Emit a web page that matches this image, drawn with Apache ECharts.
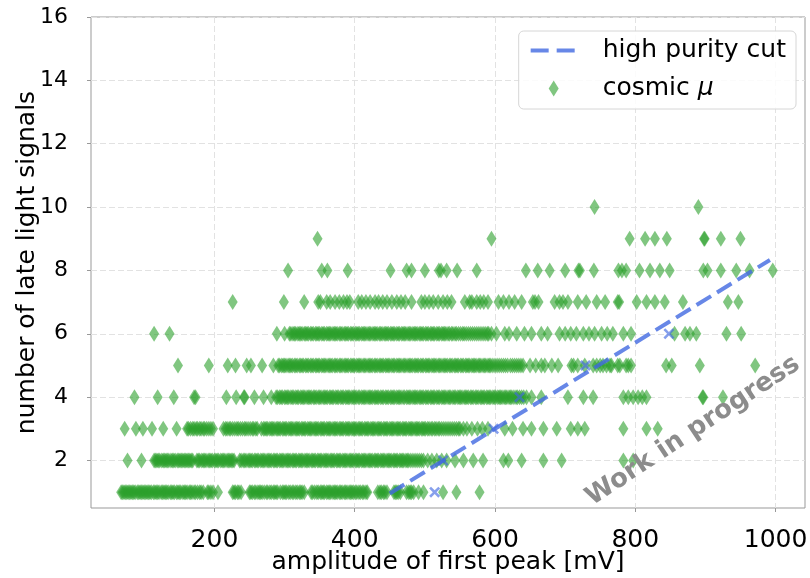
<!DOCTYPE html>
<html><head><meta charset="utf-8">
<script src="https://cdn.jsdelivr.net/npm/echarts@6/dist/echarts.min.js"></script>
<style>html,body{margin:0;padding:0;background:#fff}#c{width:810px;height:578px}</style>
</head><body><div id="c"></div>
<script>
// ---- data ----
const rowLevels = [1, 2, 3, 4, 5, 6, 7, 8, 9, 10];
const row1 = [67, 71, 75, 79, 83, 87, 92, 96, 100, 104, 108, 113, 117, 121, 126, 130, 134, 139, 143, 148, 152, 157, 161, 166, 171, 176, 181, 190, 195, 205,
  226, 230, 235, 238, 250, 254, 257, 262, 266, 271, 276, 281, 286, 290, 297, 301, 306, 311, 316, 321, 325, 328, 338, 343, 348, 353, 357, 362, 366, 371, 375, 380, 385, 389, 394, 398, 403, 408, 413, 418,
  433, 438, 443, 446, 456, 460, 465, 474, 479, 484, 491, 498, 526, 545, 578];
const row1Dense = [69, 73, 77, 81, 85, 90, 94, 98, 102, 106, 110, 115, 119, 124, 128, 132, 137, 141, 146, 150, 155, 159, 164, 168, 173, 179, 184, 192, 198, 228, 233, 252, 259, 264, 268, 274, 279, 284, 288, 294, 299, 303, 308, 313, 318, 323, 340, 346, 351, 355, 360, 364, 369, 373, 378, 382, 387, 392, 396, 401, 406, 411, 416, 436, 441, 458, 462, 477, 481];
const row2 = [76, 96,
  114, 118, 122, 127, 131, 135, 140, 144, 149, 153, 157, 161, 165, 169,
  175, 179, 184, 188, 193, 197, 202, 206, 211, 215, 220, 224, 228,
  236, 241, 245, 250, 254, 259, 263, 268, 272, 277, 281, 286, 290, 295, 299, 304, 308, 313, 317, 322, 326, 331, 335, 340, 344, 349, 353, 358, 362, 367, 371, 376, 380, 385, 389, 394, 398, 403, 407, 412, 416, 421, 425, 430, 434, 439, 443, 448, 452, 457, 461, 466, 470, 475, 480, 486, 492, 498, 504, 510, 517, 524, 531,
  543, 555, 569, 583, 612, 619, 638, 669, 695, 783, 797];
const row2Dense = [116, 120, 125, 129, 133, 138, 142, 147, 151, 155, 159, 163, 167, 177, 182, 186, 191, 195, 200, 204, 209, 213, 218, 222, 226, 238, 243, 248, 252, 257, 261, 266, 270, 275, 279, 284, 288, 293, 297, 302, 306, 311, 315, 320, 324, 329, 333, 338, 342, 347, 351, 356, 360, 365, 369, 374, 378, 383, 387, 392, 396, 401, 405, 410, 414, 419, 423, 428, 432, 437, 441, 446, 450, 455, 459, 464, 468, 473, 477, 483, 489, 495];
const row3 = [72, 88, 98, 111, 127, 146,
  161, 166, 171, 176, 181, 186, 192, 198,
  213, 218, 223, 229, 234, 240, 245, 251, 256, 261,
  267, 272, 276, 281, 285, 290, 294, 299, 303, 308, 312, 317, 321, 326, 330, 335, 339, 344, 348, 353, 357, 362, 366, 371, 375, 380, 384, 389, 393, 398, 402, 407, 411, 416, 420, 425, 429, 434, 438, 443, 447, 452, 456, 461, 465, 470, 474, 479, 483, 488, 492, 497, 501, 506, 511, 516, 521, 527, 533, 539, 545, 550, 555,
  560, 567, 575, 582, 590, 614, 625, 640, 652, 669, 688, 708, 718, 728, 783, 816, 832];
const row3Dense = [163, 169, 174, 179, 184, 189, 195, 216, 221, 226, 232, 237, 243, 248, 254, 259, 270, 274, 279, 283, 288, 292, 297, 301, 306, 310, 315, 319, 324, 328, 333, 337, 342, 346, 351, 355, 360, 364, 369, 373, 378, 382, 387, 391, 396, 400, 405, 409, 414, 418, 423, 427, 432, 436, 441, 445, 450, 454, 459, 463, 468, 472, 477, 481, 486, 490, 495, 499, 504, 509, 514, 519, 524, 530, 536, 542, 548];
const row4 = [86, 119, 142, 171, 173, 217, 231, 242, 243, 257, 270, 281,
  288, 293, 297, 302, 306, 311, 316, 320, 325, 329, 334, 338, 343, 348, 352, 357, 361, 366, 370, 375, 380, 384, 389, 393, 398, 402, 407, 412, 416, 421, 425, 430, 434, 439, 444, 448, 453, 457, 462, 466, 471, 476, 480, 485, 489, 494, 498, 503, 508, 512, 517, 521, 526, 530, 535, 540, 544, 549, 553, 558, 562, 567, 572, 576, 581, 585, 590, 594, 599, 604, 608, 613, 617, 622, 627, 632, 638, 645,
  652, 666, 704, 726, 740, 783, 790, 797, 804, 810, 816, 896, 897, 925];
const row4Dense = [290, 295, 300, 304, 309, 313, 318, 323, 327, 332, 336, 341, 345, 350, 355, 359, 364, 368, 373, 377, 382, 387, 391, 396, 400, 405, 410, 414, 419, 423, 428, 432, 437, 441, 446, 451, 455, 460, 464, 469, 474, 478, 483, 487, 492, 496, 501, 505, 510, 514, 519, 524, 528, 533, 537, 542, 547, 551, 556, 560, 565, 569, 574, 579, 583, 588, 592, 597, 601, 606, 610, 615, 620, 624, 630, 635, 641];
const row5 = [148, 192, 219, 230, 246, 252, 268, 284,
  291, 296, 300, 305, 309, 314, 318, 323, 327, 332, 337, 341, 346, 350, 355, 359, 364, 368, 373, 378, 382, 387, 391, 396, 400, 405, 409, 414, 419, 423, 428, 432, 437, 441, 446, 450, 455, 460, 464, 469, 473, 478, 482, 487, 491, 496, 501, 505, 510, 514, 519, 523, 528, 532, 537, 542, 546, 551, 555, 560, 564, 569, 573, 578, 583, 587, 592, 597, 603, 609, 615, 622, 628, 634, 640,
  650, 658, 666, 671, 681, 690, 709, 712, 718, 728, 740, 745, 750, 754, 759, 764, 766, 775, 778, 787, 790, 794, 844, 852, 892, 971];
const row5Dense = [293, 298, 302, 307, 311, 316, 321, 325, 330, 334, 339, 344, 348, 353, 357, 362, 366, 371, 375, 380, 385, 389, 394, 398, 403, 407, 412, 416, 421, 425, 430, 435, 439, 444, 448, 453, 457, 462, 466, 471, 476, 480, 485, 489, 494, 498, 503, 507, 512, 516, 521, 526, 530, 535, 539, 544, 548, 553, 558, 562, 567, 571, 576, 580, 585, 590, 594, 600, 606, 612, 618, 625, 631, 637];
const row6 = [114, 136, 289, 300,
  307, 312, 316, 321, 325, 330, 334, 339, 344, 348, 353, 357, 362, 366, 371, 375, 380, 385, 389, 394, 398, 403, 407, 412, 416, 421, 426, 430, 435, 439, 444, 448, 453, 457, 462, 467, 471, 476, 480, 485, 489, 494, 498, 503, 508, 512, 517, 521, 526, 530, 535, 540, 545, 551, 556, 562, 568, 574, 580, 586, 591, 595,
  602, 614, 620, 631, 642, 652, 666, 675, 692, 700, 708, 716, 726, 734, 742, 752, 760, 768, 783, 794, 856, 871, 878, 887, 930, 951];
const row6Dense = [309, 314, 319, 323, 328, 332, 337, 341, 346, 350, 355, 360, 364, 369, 373, 378, 382, 387, 391, 396, 401, 405, 410, 414, 419, 423, 428, 432, 437, 442, 446, 451, 455, 460, 464, 469, 473, 478, 483, 487, 492, 496, 501, 505, 510, 514, 519, 524, 528, 533, 538, 543, 548, 554, 559, 565, 571, 577, 583, 589];
const row7 = [226, 299, 328, 348, 351, 360, 365, 372, 378, 384, 389, 393, 405, 410, 416, 422, 429, 434, 440, 446, 453, 460, 466, 472, 481, 495, 500, 506, 512, 519, 526, 532, 538, 557, 564, 567, 574, 579, 584, 590, 605, 612, 620, 628, 638, 654, 657, 662, 685, 692, 697, 704, 718, 730, 745, 757, 775, 777, 802, 816, 828, 842, 868, 932, 947];
const row8 = [305, 353, 361, 390, 451, 474, 481, 500, 520, 523, 531, 546, 574, 644, 661, 678, 700, 719, 721, 741, 776, 781, 787, 806, 821, 835, 849, 897, 903, 922, 944, 963, 996];
const row9 = [347, 595, 792, 814, 828, 845, 898, 899, 922, 950];
const row10 = [742, 890];
const rows = [row1.concat(row1Dense), row2.concat(row2Dense), row3.concat(row3Dense), row4.concat(row4Dense),
  row5.concat(row5Dense), row6.concat(row6Dense), row7, row8, row9, row10];

const cutX = [514, 526, 598, 635, 729, 848];
const cutY = [1, 2, 3, 4, 5, 6];
const fitX = [450, 992];
const fitY = [0.96, 8.33];

const xTicks = [200, 400, 600, 800, 1000];
const yTicks = [2, 4, 6, 8, 10, 12, 14, 16];

const xName = 'amplitude of first peak [mV]';
const yName = 'number of late light signals';
const cutName = 'high purity cut';
const muonName = 'cosmic μ';
const watermark = 'Work in progress';

// ---- chart ----
const FONT = 'DejaVu Sans';
const GREEN = '#2ca02c';
const BLUE = 'rgba(65,105,225,0.8)';
const CROSS = 'path://M2,0L6,4L10,0L12,2L8,6L12,10L10,12L6,8L2,12L0,10L4,6L0,2Z';
const DIAMOND = 'path://M5,0L10,8L5,16L0,8Z';

const scatterData = [];
rows.forEach((xs, i) => xs.forEach(x => scatterData.push([x, rowLevels[i]])));
const fitData = fitX.map((x, i) => [x, fitY[i]]);
const cutData = cutX.map((x, i) => [x, cutY[i]]);

const chart = echarts.init(document.getElementById('c'), null, {renderer: 'canvas'});
const axisCommon = {
  type: 'value',
  nameLocation: 'middle',
  nameMoveOverlap: false,
  nameTextStyle: {fontFamily: FONT, fontSize: 25, color: '#000'},
  axisLine: {show: false},
  splitLine: {show: true, lineStyle: {color: '#e2e2e2', type: [6, 3], width: 1}}
};
chart.setOption({
  animation: false,
  backgroundColor: '#fff',
  grid: {left: 91, right: 5, top: 17, bottom: 70, show: true, borderColor: '#999', borderWidth: 1,
    containLabel: false, outerBoundsMode: 'none'},
  xAxis: Object.assign({}, axisCommon, {
    min: 24, max: 1042, splitNumber: 5,
    name: xName, nameGap: 42,
    axisTick: {show: true, length: 4, lineStyle: {color: '#999'}, customValues: xTicks},
    axisLabel: {customValues: xTicks, fontFamily: FONT, fontSize: 25, color: '#000', margin: 20,
      formatter: v => String(v)}
  }),
  yAxis: Object.assign({}, axisCommon, {
    min: 0.5, max: 16, splitNumber: 8,
    name: yName, nameGap: 51,
    axisTick: {show: true, length: 4, lineStyle: {color: '#999'}, customValues: yTicks},
    axisLabel: {customValues: yTicks, fontFamily: FONT, fontSize: 22, color: '#000', margin: 23,
      formatter: v => String(v)}
  }),
  legend: {
    orient: 'vertical', right: 14, top: 31,
    padding: [7, 10, 8, 10], itemGap: 13, itemWidth: 46, itemHeight: 16,
    backgroundColor: 'rgba(255,255,255,0.85)', borderColor: '#d6d6d6', borderWidth: 1, borderRadius: 5,
    lineStyle: {width: 4, type: [18, 8]},
    textStyle: {fontFamily: FONT, fontSize: 25, color: '#000', padding: [0, 0, 0, 21],
      rich: {n: {fontFamily: FONT, fontSize: 25, color: '#000'}, m: {fontFamily: FONT, fontSize: 25, fontStyle: 'italic', color: '#000'}}},
    formatter: name => name === muonName ? '{n|cosmic }{m|μ}' : name,
    data: [{name: cutName, itemStyle: {opacity: 0}}, {name: muonName, icon: DIAMOND}]
  },
  series: [
    {type: 'scatter', name: muonName, data: scatterData, symbol: 'diamond', symbolSize: [10, 16],
      itemStyle: {color: GREEN, opacity: 0.6}, z: 2, silent: true},
    {type: 'line', name: cutName, data: fitData, symbol: 'none',
      lineStyle: {color: BLUE, width: 4, type: [17, 7]}, z: 3, silent: true},
    {type: 'scatter', name: 'cut points', data: cutData, symbol: CROSS, symbolSize: 11,
      itemStyle: {color: BLUE}, z: 4, silent: true}
  ],
  graphic: [{
    type: 'text', x: 693, y: 431, rotation: 0.585, z: 10,
    style: {text: watermark, fontFamily: FONT, fontWeight: 'bold', fontSize: 26, fill: '#8c8c8c',
      textAlign: 'center', textVerticalAlign: 'middle'}
  }]
});
</script></body></html>
